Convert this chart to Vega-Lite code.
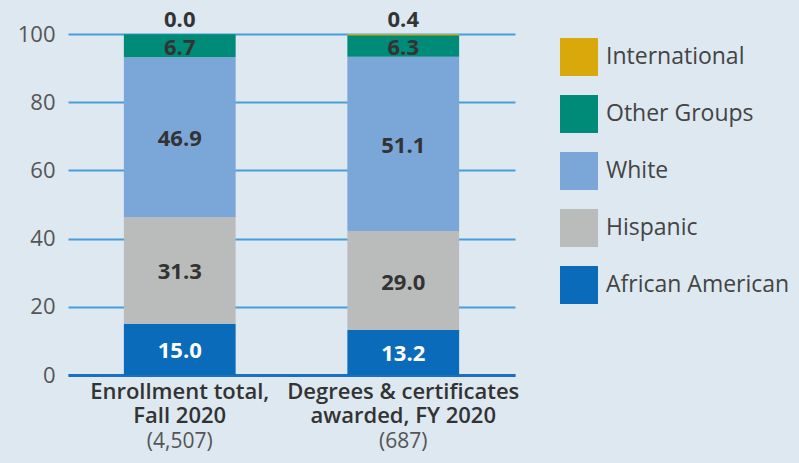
{
  "$schema": "https://vega.github.io/schema/vega-lite/v6.json",
  "width": 447,
  "height": 341,
  "autosize": "none",
  "padding": {"left": 68, "top": 34, "right": 284, "bottom": 88},
  "background": "#dde8f1",
  "config": {"view": {"stroke": null}, "font": "Open Sans"},
  "data": {
    "values": [
      {"category": "Enrollment total,|Fall 2020|(4,507)", "group": "African American", "pct": 15.0, "stackOrder": 1},
      {"category": "Enrollment total,|Fall 2020|(4,507)", "group": "Hispanic", "pct": 31.3, "stackOrder": 2},
      {"category": "Enrollment total,|Fall 2020|(4,507)", "group": "White", "pct": 46.9, "stackOrder": 3},
      {"category": "Enrollment total,|Fall 2020|(4,507)", "group": "Other Groups", "pct": 6.7, "stackOrder": 4},
      {"category": "Enrollment total,|Fall 2020|(4,507)", "group": "International", "pct": 0.0, "stackOrder": 5},
      {"category": "Degrees & certificates|awarded, FY 2020|(687)", "group": "African American", "pct": 13.2, "stackOrder": 1},
      {"category": "Degrees & certificates|awarded, FY 2020|(687)", "group": "Hispanic", "pct": 29.0, "stackOrder": 2},
      {"category": "Degrees & certificates|awarded, FY 2020|(687)", "group": "White", "pct": 51.1, "stackOrder": 3},
      {"category": "Degrees & certificates|awarded, FY 2020|(687)", "group": "Other Groups", "pct": 6.3, "stackOrder": 4},
      {"category": "Degrees & certificates|awarded, FY 2020|(687)", "group": "International", "pct": 0.4, "stackOrder": 5}
    ]
  },
  "transform": [
    {"stack": "pct", "groupby": ["category"], "sort": [{"field": "stackOrder", "order": "ascending"}], "as": ["y0", "y1"]},
    {"calculate": "(datum.y0 + datum.y1) / 2", "as": "ymid"}
  ],
  "layer": [
    {
      "mark": {"type": "bar"},
      "encoding": {
        "x": {
          "field": "category", "type": "nominal", "sort": null,
          "scale": {"paddingInner": 0.5, "paddingOuter": 0.25},
          "axis": {
            "orient": "bottom",
            "title": null, "labelAngle": 0, "ticks": false,
            "domainColor": "#1a6fc0", "domainWidth": 3,
            "labelExpr": "slice(split(datum.label, '|'), 0, 2)",
            "labelFontSize": 22, "labelFontWeight": 600, "labelColor": "#333333",
            "labelLineHeight": 24, "labelPadding": 6, "labelLimit": 400
          }
        },
        "y": {
          "field": "y0", "type": "quantitative",
          "scale": {"domain": [0, 100], "nice": false},
          "axis": {
            "title": null, "values": [0, 20, 40, 60, 80, 100],
            "domain": false, "ticks": false,
            "grid": true, "gridColor": "#4a9ed8", "gridWidth": 2,
            "labelFontSize": 22, "labelColor": "#555555", "labelPadding": 13
          }
        },
        "y2": {"field": "y1"},
        "color": {
          "field": "group", "type": "nominal",
          "scale": {
            "domain": ["International", "Other Groups", "White", "Hispanic", "African American"],
            "range": ["#d9a80a", "#008a78", "#7ba6d8", "#b9bcbb", "#0a6bba"]
          },
          "legend": {
            "title": null, "orient": "none", "legendX": 492, "legendY": 4,
            "symbolType": "square", "symbolSize": 1444, "symbolStrokeWidth": 0,
            "labelFontSize": 23, "labelColor": "#444444", "rowPadding": 19,
            "labelOffset": 8, "labelLimit": 300
          }
        }
      }
    },
    {
      "transform": [{"filter": "datum.group !== 'International'"}],
      "mark": {"type": "text", "fontSize": 22, "fontWeight": "bold", "dy": 2},
      "encoding": {
        "x": {
          "field": "category", "type": "nominal", "sort": null,
          "axis": {
            "orient": "bottom",
            "title": null, "labelAngle": 0, "ticks": false, "domain": false,
            "labelExpr": "split(datum.label, '|')[2]",
            "labelFontSize": 21, "labelFontWeight": "normal", "labelColor": "#555555",
            "labelPadding": 55, "labelLimit": 400
          }
        },
        "y": {"field": "ymid", "type": "quantitative"},
        "text": {"field": "pct", "type": "quantitative", "format": ".1f"},
        "color": {
          "condition": {"test": "datum.group === 'African American'", "value": "#ffffff"},
          "value": "#333333"
        }
      }
    },
    {
      "transform": [{"filter": "datum.group === 'International'"}],
      "mark": {"type": "text", "fontSize": 22, "fontWeight": "bold", "baseline": "alphabetic", "dy": -7},
      "encoding": {
        "x": {"field": "category", "type": "nominal", "sort": null, "axis": null},
        "y": {"field": "y1", "type": "quantitative"},
        "text": {"field": "pct", "type": "quantitative", "format": ".1f"},
        "color": {"value": "#333333"}
      }
    }
  ],
  "resolve": {"axis": {"x": "independent"}}
}
